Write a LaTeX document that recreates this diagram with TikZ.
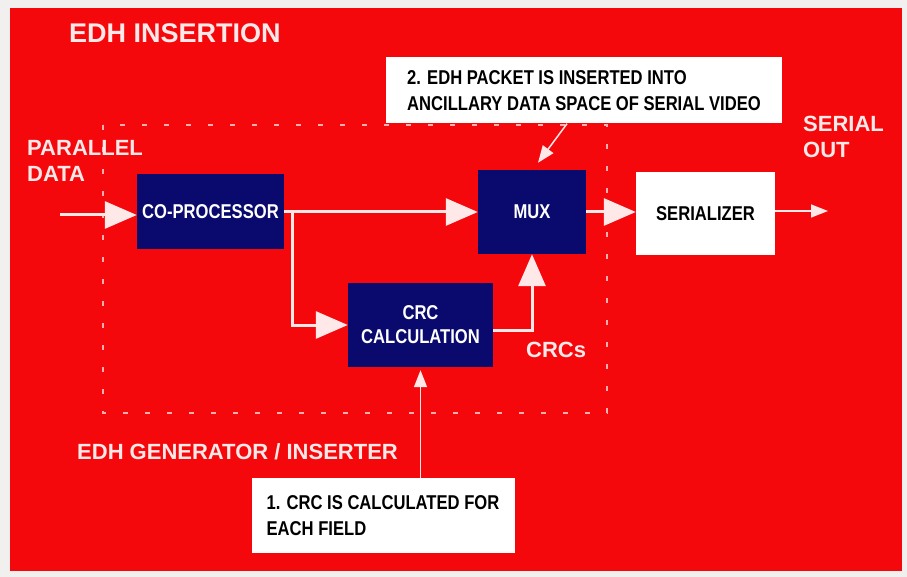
\documentclass[tikz,border=0pt]{standalone}
\usepackage{fontspec}
\setmainfont{Liberation Sans}
\newfontfamily\hvb[Scale=1.0]{Liberation Sans}
\newfontfamily\cnd[FakeStretch=0.83]{Liberation Sans}
\usetikzlibrary{arrows.meta}
\definecolor{bgred}{RGB}{245,8,12}
\definecolor{navy}{RGB}{10,10,110}
\definecolor{pinkw}{RGB}{255,232,232}
\definecolor{dashc}{RGB}{255,175,175}
\definecolor{paper}{RGB}{242,240,238}
\tikzset{
  blockbox/.style={rectangle, fill=navy, text=white, inner sep=0pt,
    font=\cnd\bfseries\fontsize{20}{24}\selectfont, align=center},
  whitebox/.style={rectangle, fill=white, text=black, inner sep=0pt,
    font=\cnd\bfseries\fontsize{20}{24}\selectfont, align=center},
  notebox/.style={rectangle, fill=white, text=black, inner xsep=13pt, inner ysep=0pt,
    font=\cnd\bfseries\fontsize{20}{26}\selectfont, align=left},
  label/.style={text=pinkw, inner sep=0pt, font=\hvb\bfseries\fontsize{22}{26}\selectfont, align=left},
  bigflow/.style={draw=pinkw, line width=3pt, -{Triangle[length=32pt,width=27pt]}},
  smallflow/.style={draw=pinkw, line width=1.5pt, -{Triangle[length=17pt,width=13pt]}},
  groupbox/.style={draw=dashc, line width=1.5pt, dash pattern=on 5pt off 17pt}
}
\begin{document}
\begin{tikzpicture}[x=1pt,y=-1pt]
\useasboundingbox (0,0) rectangle (907,577);
\fill[paper] (0,0) rectangle (907,577);
\fill[bgred] (10,8) rectangle (902,571);

% dashed group
\draw[groupbox] (103,125) rectangle (607,413);

% title
\node[label, anchor=west, font=\hvb\bfseries\fontsize{27}{30}\selectfont] (title) at (69,33) {EDH INSERTION};

% blocks
\node[blockbox, minimum width=147pt, minimum height=75pt] (coproc) at (210.5,212) {CO-PROCESSOR};
\node[blockbox, minimum width=145pt, minimum height=84pt] (crc) at (420.5,325) {CRC\\CALCULATION};
\node[blockbox, minimum width=108pt, minimum height=84pt] (mux) at (532,212) {MUX};
\node[whitebox, minimum width=139pt, minimum height=83pt] (ser) at (705.5,213.5) {SERIALIZER};

% notes
\node[notebox, minimum width=396pt, minimum height=66pt] (note2) at (584,90.5)
  {2. EDH PACKET IS INSERTED INTO\\ANCILLARY DATA SPACE OF SERIAL VIDEO};
\node[notebox, minimum width=263pt, minimum height=75pt, inner xsep=15pt] (note1) at (383,515.5)
  {1. CRC IS CALCULATED FOR\\EACH FIELD};

% labels
\node[label, anchor=west] (pdata) at (27,161) {PARALLEL\\DATA};
\node[label, anchor=west] (sout) at (803,137) {SERIAL\\OUT};
\node[label, anchor=west] (crcs) at (526,350) {CRCs};
\node[label, anchor=west] (gen) at (77,452) {EDH GENERATOR / INSERTER};

% connectors
\coordinate (in) at (60,215);
\coordinate (br) at (292,0);
\coordinate (out) at (828,211);
\draw[bigflow] (in) -- (in -| coproc.west);
\draw[bigflow] (coproc.east) -- (mux.west |- coproc.east);
\draw[bigflow] (br |- coproc.east) -- (br |- crc.west) -- (crc.west);
\draw[bigflow] ([yshift=-5pt]crc.east) -- ([yshift=-5pt]crc.east -| mux.south) -- (mux.south);
\draw[bigflow] (mux.east) -- (ser.west |- mux.east);
\draw[smallflow] (ser.east |- out) -- (out);
\draw[smallflow] ([xshift=-17pt]note2.south) -- ([xshift=6pt,yshift=7pt]mux.north);
\draw[smallflow] (crc.south |- note1.north) -- ([yshift=-3pt]crc.south);
\end{tikzpicture}
\end{document}
